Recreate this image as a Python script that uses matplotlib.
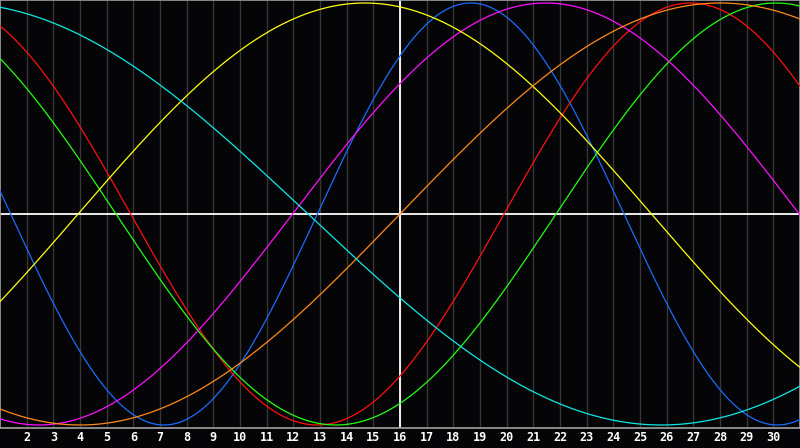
import numpy as np
import matplotlib
matplotlib.use("Agg")
import matplotlib.pyplot as plt

# biorhythm cycles: period in days and the day where each curve crosses zero going up
cycles = ['physical', 'emotional', 'intellectual', 'intuitive', 'aesthetic', 'awareness', 'spiritual']
periods = [23, 28, 33, 38, 43, 48, 53]
zero_up = [12.9, 19.9, 21.85, 11.97, 3.93, 16.0, 39.05]
colors = ['#1a6cff', '#ff1010', '#22ff10', '#ff10ff', '#ffff10', '#ff8a1a', '#10e8e8']

day_labels = list(range(2, 31))
today = 16

fig = plt.figure(figsize=(8, 4.48), dpi=100, facecolor='#050507')
ax = fig.add_axes([0, 20/448, 1, 428/448])
ax.set_facecolor('#050507')

# grid lines for every day, white cross for today / zero
for d in day_labels:
    ax.axvline(d, color='#363636', lw=1, zorder=1)
ax.axvline(today, color='white', lw=1.3, zorder=2)
ax.axhline(0, color='white', lw=1.3, zorder=2)

days = np.linspace(1, 31, 1200)
for name, p, z, c in zip(cycles, periods, zero_up, colors):
    vals = np.sin(2 * np.pi * (days - z) / p)
    ax.plot(days, vals, color=c, lw=0.9, zorder=3, label=name)

ax.set_xlim(1, 31)
ax.set_ylim(-214/211, 214/211)

ax.set_xticks(day_labels)
ax.set_xticklabels([str(d) for d in day_labels], color='white',
                   fontfamily='DejaVu Sans Mono', fontweight='bold', fontsize=8.5)
ax.tick_params(axis='x', length=0, pad=2)
ax.set_yticks([])

for side in ['left', 'top', 'bottom', 'right']:
    ax.spines[side].set_color('#a0a0a0')
    ax.spines[side].set_linewidth(1.2)

fig.savefig('out.png', dpi=100, facecolor=fig.get_facecolor())
